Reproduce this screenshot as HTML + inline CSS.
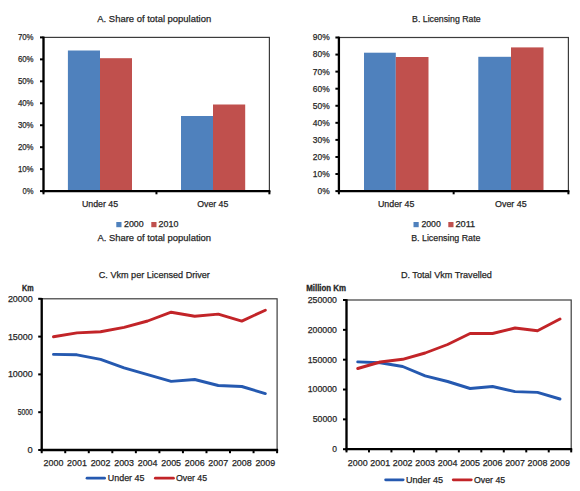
<!DOCTYPE html>
<html><head><meta charset="utf-8"><style>
html,body{margin:0;padding:0;background:#fff;}
svg{display:block;}
#wrap{width:580px;height:491px;}
text{font-family:"Liberation Sans",sans-serif;}
</style></head><body><div id="wrap">
<svg width="580" height="491" viewBox="0 0 580 491">
<rect x="0" y="0" width="580" height="491" fill="#fff"/>
<rect x="43.50" y="37.40" width="225.90" height="153.70" fill="none" stroke="#3c3c3c" stroke-width="1.2"/>
<rect x="67.90" y="50.50" width="32.10" height="140.60" fill="#4F81BD"/>
<rect x="100.00" y="58.20" width="32.00" height="132.90" fill="#C0504D"/>
<rect x="181.00" y="116.00" width="32.00" height="75.10" fill="#4F81BD"/>
<rect x="213.00" y="104.50" width="32.20" height="86.60" fill="#C0504D"/>
<line x1="43.50" y1="36.60" x2="43.50" y2="192.25" stroke="#000" stroke-width="2.3" stroke-linecap="butt"/>
<line x1="42.30" y1="191.10" x2="270.40" y2="191.10" stroke="#000" stroke-width="2.3" stroke-linecap="butt"/>
<line x1="40.00" y1="191.10" x2="43.50" y2="191.10" stroke="#000" stroke-width="2.0" stroke-linecap="butt"/>
<line x1="40.00" y1="169.14" x2="43.50" y2="169.14" stroke="#000" stroke-width="2.0" stroke-linecap="butt"/>
<line x1="40.00" y1="147.19" x2="43.50" y2="147.19" stroke="#000" stroke-width="2.0" stroke-linecap="butt"/>
<line x1="40.00" y1="125.23" x2="43.50" y2="125.23" stroke="#000" stroke-width="2.0" stroke-linecap="butt"/>
<line x1="40.00" y1="103.27" x2="43.50" y2="103.27" stroke="#000" stroke-width="2.0" stroke-linecap="butt"/>
<line x1="40.00" y1="81.31" x2="43.50" y2="81.31" stroke="#000" stroke-width="2.0" stroke-linecap="butt"/>
<line x1="40.00" y1="59.36" x2="43.50" y2="59.36" stroke="#000" stroke-width="2.0" stroke-linecap="butt"/>
<line x1="40.00" y1="37.40" x2="43.50" y2="37.40" stroke="#000" stroke-width="2.0" stroke-linecap="butt"/>
<line x1="43.50" y1="191.10" x2="43.50" y2="194.30" stroke="#000" stroke-width="2.0" stroke-linecap="butt"/>
<line x1="156.45" y1="191.10" x2="156.45" y2="194.30" stroke="#000" stroke-width="2.0" stroke-linecap="butt"/>
<line x1="269.40" y1="191.10" x2="269.40" y2="194.30" stroke="#000" stroke-width="2.0" stroke-linecap="butt"/>
<text x="22.60" y="194.00" font-size="9.5" textLength="11.00" lengthAdjust="spacingAndGlyphs" fill="#262626" stroke="#262626" stroke-width="0.25">0%</text>
<text x="17.90" y="172.04" font-size="9.5" textLength="15.70" lengthAdjust="spacingAndGlyphs" fill="#262626" stroke="#262626" stroke-width="0.25">10%</text>
<text x="17.90" y="150.09" font-size="9.5" textLength="15.70" lengthAdjust="spacingAndGlyphs" fill="#262626" stroke="#262626" stroke-width="0.25">20%</text>
<text x="17.90" y="128.13" font-size="9.5" textLength="15.70" lengthAdjust="spacingAndGlyphs" fill="#262626" stroke="#262626" stroke-width="0.25">30%</text>
<text x="17.90" y="106.17" font-size="9.5" textLength="15.70" lengthAdjust="spacingAndGlyphs" fill="#262626" stroke="#262626" stroke-width="0.25">40%</text>
<text x="17.90" y="84.21" font-size="9.5" textLength="15.70" lengthAdjust="spacingAndGlyphs" fill="#262626" stroke="#262626" stroke-width="0.25">50%</text>
<text x="17.90" y="62.26" font-size="9.5" textLength="15.70" lengthAdjust="spacingAndGlyphs" fill="#262626" stroke="#262626" stroke-width="0.25">60%</text>
<text x="17.90" y="40.30" font-size="9.5" textLength="15.70" lengthAdjust="spacingAndGlyphs" fill="#262626" stroke="#262626" stroke-width="0.25">70%</text>
<text x="97.30" y="22.10" font-size="9.8" textLength="113.90" lengthAdjust="spacingAndGlyphs" fill="#262626" stroke="#262626" stroke-width="0.25">A. Share of total population</text>
<text x="81.90" y="206.60" font-size="8.8" textLength="36.20" lengthAdjust="spacingAndGlyphs" fill="#262626" stroke="#262626" stroke-width="0.25">Under 45</text>
<text x="197.30" y="206.60" font-size="8.8" textLength="31.00" lengthAdjust="spacingAndGlyphs" fill="#262626" stroke="#262626" stroke-width="0.25">Over 45</text>
<rect x="116.30" y="222.00" width="5.20" height="5.20" fill="#4F81BD"/>
<text x="124.00" y="227.30" font-size="9.0" textLength="19.70" lengthAdjust="spacingAndGlyphs" fill="#262626" stroke="#262626" stroke-width="0.25">2000</text>
<rect x="151.30" y="222.00" width="5.20" height="5.20" fill="#C0504D"/>
<text x="158.60" y="227.30" font-size="9.0" textLength="19.80" lengthAdjust="spacingAndGlyphs" fill="#262626" stroke="#262626" stroke-width="0.25">2010</text>
<text x="97.40" y="240.60" font-size="9.6" textLength="113.70" lengthAdjust="spacingAndGlyphs" fill="#262626" stroke="#262626" stroke-width="0.25">A. Share of total population</text>
<rect x="338.90" y="37.50" width="229.50" height="153.60" fill="none" stroke="#3c3c3c" stroke-width="1.2"/>
<rect x="364.00" y="52.70" width="31.80" height="138.40" fill="#4F81BD"/>
<rect x="395.80" y="57.00" width="32.70" height="134.10" fill="#C0504D"/>
<rect x="478.30" y="56.80" width="32.70" height="134.30" fill="#4F81BD"/>
<rect x="511.00" y="47.40" width="32.50" height="143.70" fill="#C0504D"/>
<line x1="338.90" y1="36.70" x2="338.90" y2="192.25" stroke="#000" stroke-width="2.3" stroke-linecap="butt"/>
<line x1="337.70" y1="191.10" x2="569.40" y2="191.10" stroke="#000" stroke-width="2.3" stroke-linecap="butt"/>
<line x1="335.40" y1="191.10" x2="338.90" y2="191.10" stroke="#000" stroke-width="2.0" stroke-linecap="butt"/>
<line x1="335.40" y1="174.03" x2="338.90" y2="174.03" stroke="#000" stroke-width="2.0" stroke-linecap="butt"/>
<line x1="335.40" y1="156.97" x2="338.90" y2="156.97" stroke="#000" stroke-width="2.0" stroke-linecap="butt"/>
<line x1="335.40" y1="139.90" x2="338.90" y2="139.90" stroke="#000" stroke-width="2.0" stroke-linecap="butt"/>
<line x1="335.40" y1="122.83" x2="338.90" y2="122.83" stroke="#000" stroke-width="2.0" stroke-linecap="butt"/>
<line x1="335.40" y1="105.77" x2="338.90" y2="105.77" stroke="#000" stroke-width="2.0" stroke-linecap="butt"/>
<line x1="335.40" y1="88.70" x2="338.90" y2="88.70" stroke="#000" stroke-width="2.0" stroke-linecap="butt"/>
<line x1="335.40" y1="71.63" x2="338.90" y2="71.63" stroke="#000" stroke-width="2.0" stroke-linecap="butt"/>
<line x1="335.40" y1="54.57" x2="338.90" y2="54.57" stroke="#000" stroke-width="2.0" stroke-linecap="butt"/>
<line x1="335.40" y1="37.50" x2="338.90" y2="37.50" stroke="#000" stroke-width="2.0" stroke-linecap="butt"/>
<line x1="338.90" y1="191.10" x2="338.90" y2="194.30" stroke="#000" stroke-width="2.0" stroke-linecap="butt"/>
<line x1="453.65" y1="191.10" x2="453.65" y2="194.30" stroke="#000" stroke-width="2.0" stroke-linecap="butt"/>
<line x1="568.40" y1="191.10" x2="568.40" y2="194.30" stroke="#000" stroke-width="2.0" stroke-linecap="butt"/>
<text x="317.60" y="194.00" font-size="9.5" textLength="12.10" lengthAdjust="spacingAndGlyphs" fill="#262626" stroke="#262626" stroke-width="0.25">0%</text>
<text x="312.80" y="176.93" font-size="9.5" textLength="16.90" lengthAdjust="spacingAndGlyphs" fill="#262626" stroke="#262626" stroke-width="0.25">10%</text>
<text x="312.80" y="159.87" font-size="9.5" textLength="16.90" lengthAdjust="spacingAndGlyphs" fill="#262626" stroke="#262626" stroke-width="0.25">20%</text>
<text x="312.80" y="142.80" font-size="9.5" textLength="16.90" lengthAdjust="spacingAndGlyphs" fill="#262626" stroke="#262626" stroke-width="0.25">30%</text>
<text x="312.80" y="125.73" font-size="9.5" textLength="16.90" lengthAdjust="spacingAndGlyphs" fill="#262626" stroke="#262626" stroke-width="0.25">40%</text>
<text x="312.80" y="108.67" font-size="9.5" textLength="16.90" lengthAdjust="spacingAndGlyphs" fill="#262626" stroke="#262626" stroke-width="0.25">50%</text>
<text x="312.80" y="91.60" font-size="9.5" textLength="16.90" lengthAdjust="spacingAndGlyphs" fill="#262626" stroke="#262626" stroke-width="0.25">60%</text>
<text x="312.80" y="74.53" font-size="9.5" textLength="16.90" lengthAdjust="spacingAndGlyphs" fill="#262626" stroke="#262626" stroke-width="0.25">70%</text>
<text x="312.80" y="57.47" font-size="9.5" textLength="16.90" lengthAdjust="spacingAndGlyphs" fill="#262626" stroke="#262626" stroke-width="0.25">80%</text>
<text x="312.80" y="40.40" font-size="9.5" textLength="16.90" lengthAdjust="spacingAndGlyphs" fill="#262626" stroke="#262626" stroke-width="0.25">90%</text>
<text x="412.10" y="22.10" font-size="9.8" textLength="68.60" lengthAdjust="spacingAndGlyphs" fill="#262626" stroke="#262626" stroke-width="0.25">B. Licensing Rate</text>
<text x="378.00" y="206.60" font-size="8.8" textLength="36.30" lengthAdjust="spacingAndGlyphs" fill="#262626" stroke="#262626" stroke-width="0.25">Under 45</text>
<text x="495.00" y="206.60" font-size="8.8" textLength="31.70" lengthAdjust="spacingAndGlyphs" fill="#262626" stroke="#262626" stroke-width="0.25">Over 45</text>
<rect x="413.50" y="222.00" width="5.20" height="5.20" fill="#4F81BD"/>
<text x="421.40" y="227.30" font-size="9.0" textLength="19.40" lengthAdjust="spacingAndGlyphs" fill="#262626" stroke="#262626" stroke-width="0.25">2000</text>
<rect x="448.30" y="222.00" width="5.20" height="5.20" fill="#C0504D"/>
<text x="455.40" y="227.30" font-size="9.0" textLength="19.80" lengthAdjust="spacingAndGlyphs" fill="#262626" stroke="#262626" stroke-width="0.25">2011</text>
<text x="411.20" y="240.60" font-size="9.6" textLength="69.20" lengthAdjust="spacingAndGlyphs" fill="#262626" stroke="#262626" stroke-width="0.25">B. Licensing Rate</text>
<rect x="41.70" y="298.80" width="235.40" height="151.20" fill="none" stroke="#3c3c3c" stroke-width="1.2"/>
<line x1="41.70" y1="298.00" x2="41.70" y2="451.15" stroke="#000" stroke-width="2.3" stroke-linecap="butt"/>
<line x1="40.50" y1="450.00" x2="278.10" y2="450.00" stroke="#000" stroke-width="2.3" stroke-linecap="butt"/>
<line x1="38.20" y1="450.00" x2="41.70" y2="450.00" stroke="#000" stroke-width="2.0" stroke-linecap="butt"/>
<line x1="38.20" y1="412.20" x2="41.70" y2="412.20" stroke="#000" stroke-width="2.0" stroke-linecap="butt"/>
<line x1="38.20" y1="374.40" x2="41.70" y2="374.40" stroke="#000" stroke-width="2.0" stroke-linecap="butt"/>
<line x1="38.20" y1="336.60" x2="41.70" y2="336.60" stroke="#000" stroke-width="2.0" stroke-linecap="butt"/>
<line x1="38.20" y1="298.80" x2="41.70" y2="298.80" stroke="#000" stroke-width="2.0" stroke-linecap="butt"/>
<line x1="41.70" y1="450.00" x2="41.70" y2="453.20" stroke="#000" stroke-width="2.0" stroke-linecap="butt"/>
<line x1="65.24" y1="450.00" x2="65.24" y2="453.20" stroke="#000" stroke-width="2.0" stroke-linecap="butt"/>
<line x1="88.78" y1="450.00" x2="88.78" y2="453.20" stroke="#000" stroke-width="2.0" stroke-linecap="butt"/>
<line x1="112.32" y1="450.00" x2="112.32" y2="453.20" stroke="#000" stroke-width="2.0" stroke-linecap="butt"/>
<line x1="135.86" y1="450.00" x2="135.86" y2="453.20" stroke="#000" stroke-width="2.0" stroke-linecap="butt"/>
<line x1="159.40" y1="450.00" x2="159.40" y2="453.20" stroke="#000" stroke-width="2.0" stroke-linecap="butt"/>
<line x1="182.94" y1="450.00" x2="182.94" y2="453.20" stroke="#000" stroke-width="2.0" stroke-linecap="butt"/>
<line x1="206.48" y1="450.00" x2="206.48" y2="453.20" stroke="#000" stroke-width="2.0" stroke-linecap="butt"/>
<line x1="230.02" y1="450.00" x2="230.02" y2="453.20" stroke="#000" stroke-width="2.0" stroke-linecap="butt"/>
<line x1="253.56" y1="450.00" x2="253.56" y2="453.20" stroke="#000" stroke-width="2.0" stroke-linecap="butt"/>
<line x1="277.10" y1="450.00" x2="277.10" y2="453.20" stroke="#000" stroke-width="2.0" stroke-linecap="butt"/>
<text x="27.60" y="452.90" font-size="9.5" textLength="5.20" lengthAdjust="spacingAndGlyphs" fill="#262626" stroke="#262626" stroke-width="0.25">0</text>
<text x="17.70" y="415.10" font-size="9.5" textLength="15.10" lengthAdjust="spacingAndGlyphs" fill="#262626" stroke="#262626" stroke-width="0.25">5000</text>
<text x="7.90" y="377.30" font-size="9.5" textLength="24.90" lengthAdjust="spacingAndGlyphs" fill="#262626" stroke="#262626" stroke-width="0.25">10000</text>
<text x="7.90" y="339.50" font-size="9.5" textLength="24.90" lengthAdjust="spacingAndGlyphs" fill="#262626" stroke="#262626" stroke-width="0.25">15000</text>
<text x="7.90" y="301.70" font-size="9.5" textLength="24.90" lengthAdjust="spacingAndGlyphs" fill="#262626" stroke="#262626" stroke-width="0.25">20000</text>
<text x="22.00" y="290.90" font-size="8.6" textLength="11.60" lengthAdjust="spacingAndGlyphs" font-weight="bold" fill="#262626" stroke="#262626" stroke-width="0.3">Km</text>
<text x="98.80" y="278.00" font-size="9.8" textLength="111.10" lengthAdjust="spacingAndGlyphs" fill="#262626" stroke="#262626" stroke-width="0.25">C. Vkm per Licensed Driver</text>
<text x="43.57" y="465.80" font-size="9.2" textLength="19.80" lengthAdjust="spacingAndGlyphs" fill="#262626" stroke="#262626" stroke-width="0.25">2000</text>
<text x="67.11" y="465.80" font-size="9.2" textLength="19.80" lengthAdjust="spacingAndGlyphs" fill="#262626" stroke="#262626" stroke-width="0.25">2001</text>
<text x="90.65" y="465.80" font-size="9.2" textLength="19.80" lengthAdjust="spacingAndGlyphs" fill="#262626" stroke="#262626" stroke-width="0.25">2002</text>
<text x="114.19" y="465.80" font-size="9.2" textLength="19.80" lengthAdjust="spacingAndGlyphs" fill="#262626" stroke="#262626" stroke-width="0.25">2003</text>
<text x="137.73" y="465.80" font-size="9.2" textLength="19.80" lengthAdjust="spacingAndGlyphs" fill="#262626" stroke="#262626" stroke-width="0.25">2004</text>
<text x="161.27" y="465.80" font-size="9.2" textLength="19.80" lengthAdjust="spacingAndGlyphs" fill="#262626" stroke="#262626" stroke-width="0.25">2005</text>
<text x="184.81" y="465.80" font-size="9.2" textLength="19.80" lengthAdjust="spacingAndGlyphs" fill="#262626" stroke="#262626" stroke-width="0.25">2006</text>
<text x="208.35" y="465.80" font-size="9.2" textLength="19.80" lengthAdjust="spacingAndGlyphs" fill="#262626" stroke="#262626" stroke-width="0.25">2007</text>
<text x="231.89" y="465.80" font-size="9.2" textLength="19.80" lengthAdjust="spacingAndGlyphs" fill="#262626" stroke="#262626" stroke-width="0.25">2008</text>
<text x="255.43" y="465.80" font-size="9.2" textLength="19.80" lengthAdjust="spacingAndGlyphs" fill="#262626" stroke="#262626" stroke-width="0.25">2009</text>
<polyline points="53.47,354.40 77.01,354.80 100.55,359.40 124.09,367.90 147.63,374.60 171.17,381.40 194.71,379.50 218.25,385.50 241.79,386.50 265.33,393.60" fill="none" stroke="#2559B0" stroke-width="2.9" stroke-linejoin="round" stroke-linecap="round"/>
<polyline points="53.47,336.80 77.01,332.90 100.55,331.80 124.09,327.40 147.63,321.00 171.17,312.20 194.71,316.30 218.25,314.10 241.79,321.10 265.33,310.20" fill="none" stroke="#C22428" stroke-width="2.9" stroke-linejoin="round" stroke-linecap="round"/>
<line x1="87.00" y1="478.20" x2="104.60" y2="478.20" stroke="#2559B0" stroke-width="2.7" stroke-linecap="round"/>
<text x="107.80" y="481.00" font-size="8.8" textLength="36.70" lengthAdjust="spacingAndGlyphs" fill="#262626" stroke="#262626" stroke-width="0.25">Under 45</text>
<line x1="155.30" y1="478.20" x2="173.50" y2="478.20" stroke="#C22428" stroke-width="2.7" stroke-linecap="round"/>
<text x="176.00" y="481.00" font-size="8.8" textLength="31.10" lengthAdjust="spacingAndGlyphs" fill="#262626" stroke="#262626" stroke-width="0.25">Over 45</text>
<rect x="346.50" y="300.00" width="224.70" height="149.20" fill="none" stroke="#3c3c3c" stroke-width="1.2"/>
<line x1="346.50" y1="299.20" x2="346.50" y2="450.35" stroke="#000" stroke-width="2.3" stroke-linecap="butt"/>
<line x1="345.30" y1="449.20" x2="572.20" y2="449.20" stroke="#000" stroke-width="2.3" stroke-linecap="butt"/>
<line x1="343.00" y1="449.20" x2="346.50" y2="449.20" stroke="#000" stroke-width="2.0" stroke-linecap="butt"/>
<line x1="343.00" y1="419.36" x2="346.50" y2="419.36" stroke="#000" stroke-width="2.0" stroke-linecap="butt"/>
<line x1="343.00" y1="389.52" x2="346.50" y2="389.52" stroke="#000" stroke-width="2.0" stroke-linecap="butt"/>
<line x1="343.00" y1="359.68" x2="346.50" y2="359.68" stroke="#000" stroke-width="2.0" stroke-linecap="butt"/>
<line x1="343.00" y1="329.84" x2="346.50" y2="329.84" stroke="#000" stroke-width="2.0" stroke-linecap="butt"/>
<line x1="343.00" y1="300.00" x2="346.50" y2="300.00" stroke="#000" stroke-width="2.0" stroke-linecap="butt"/>
<line x1="346.50" y1="449.20" x2="346.50" y2="452.40" stroke="#000" stroke-width="2.0" stroke-linecap="butt"/>
<line x1="368.97" y1="449.20" x2="368.97" y2="452.40" stroke="#000" stroke-width="2.0" stroke-linecap="butt"/>
<line x1="391.44" y1="449.20" x2="391.44" y2="452.40" stroke="#000" stroke-width="2.0" stroke-linecap="butt"/>
<line x1="413.91" y1="449.20" x2="413.91" y2="452.40" stroke="#000" stroke-width="2.0" stroke-linecap="butt"/>
<line x1="436.38" y1="449.20" x2="436.38" y2="452.40" stroke="#000" stroke-width="2.0" stroke-linecap="butt"/>
<line x1="458.85" y1="449.20" x2="458.85" y2="452.40" stroke="#000" stroke-width="2.0" stroke-linecap="butt"/>
<line x1="481.32" y1="449.20" x2="481.32" y2="452.40" stroke="#000" stroke-width="2.0" stroke-linecap="butt"/>
<line x1="503.79" y1="449.20" x2="503.79" y2="452.40" stroke="#000" stroke-width="2.0" stroke-linecap="butt"/>
<line x1="526.26" y1="449.20" x2="526.26" y2="452.40" stroke="#000" stroke-width="2.0" stroke-linecap="butt"/>
<line x1="548.73" y1="449.20" x2="548.73" y2="452.40" stroke="#000" stroke-width="2.0" stroke-linecap="butt"/>
<line x1="571.20" y1="449.20" x2="571.20" y2="452.40" stroke="#000" stroke-width="2.0" stroke-linecap="butt"/>
<text x="332.30" y="452.10" font-size="9.5" textLength="4.70" lengthAdjust="spacingAndGlyphs" fill="#262626" stroke="#262626" stroke-width="0.25">0</text>
<text x="312.70" y="422.26" font-size="9.5" textLength="24.30" lengthAdjust="spacingAndGlyphs" fill="#262626" stroke="#262626" stroke-width="0.25">50000</text>
<text x="307.70" y="392.42" font-size="9.5" textLength="29.30" lengthAdjust="spacingAndGlyphs" fill="#262626" stroke="#262626" stroke-width="0.25">100000</text>
<text x="307.70" y="362.58" font-size="9.5" textLength="29.30" lengthAdjust="spacingAndGlyphs" fill="#262626" stroke="#262626" stroke-width="0.25">150000</text>
<text x="307.70" y="332.74" font-size="9.5" textLength="29.30" lengthAdjust="spacingAndGlyphs" fill="#262626" stroke="#262626" stroke-width="0.25">200000</text>
<text x="307.70" y="302.90" font-size="9.5" textLength="29.30" lengthAdjust="spacingAndGlyphs" fill="#262626" stroke="#262626" stroke-width="0.25">250000</text>
<text x="306.20" y="290.90" font-size="8.6" textLength="39.90" lengthAdjust="spacingAndGlyphs" font-weight="bold" fill="#262626" stroke="#262626" stroke-width="0.3">Million Km</text>
<text x="400.90" y="278.00" font-size="9.8" textLength="91.00" lengthAdjust="spacingAndGlyphs" fill="#262626" stroke="#262626" stroke-width="0.25">D. Total Vkm Travelled</text>
<text x="347.84" y="465.80" font-size="9.2" textLength="19.80" lengthAdjust="spacingAndGlyphs" fill="#262626" stroke="#262626" stroke-width="0.25">2000</text>
<text x="370.31" y="465.80" font-size="9.2" textLength="19.80" lengthAdjust="spacingAndGlyphs" fill="#262626" stroke="#262626" stroke-width="0.25">2001</text>
<text x="392.78" y="465.80" font-size="9.2" textLength="19.80" lengthAdjust="spacingAndGlyphs" fill="#262626" stroke="#262626" stroke-width="0.25">2002</text>
<text x="415.25" y="465.80" font-size="9.2" textLength="19.80" lengthAdjust="spacingAndGlyphs" fill="#262626" stroke="#262626" stroke-width="0.25">2003</text>
<text x="437.72" y="465.80" font-size="9.2" textLength="19.80" lengthAdjust="spacingAndGlyphs" fill="#262626" stroke="#262626" stroke-width="0.25">2004</text>
<text x="460.19" y="465.80" font-size="9.2" textLength="19.80" lengthAdjust="spacingAndGlyphs" fill="#262626" stroke="#262626" stroke-width="0.25">2005</text>
<text x="482.66" y="465.80" font-size="9.2" textLength="19.80" lengthAdjust="spacingAndGlyphs" fill="#262626" stroke="#262626" stroke-width="0.25">2006</text>
<text x="505.13" y="465.80" font-size="9.2" textLength="19.80" lengthAdjust="spacingAndGlyphs" fill="#262626" stroke="#262626" stroke-width="0.25">2007</text>
<text x="527.60" y="465.80" font-size="9.2" textLength="19.80" lengthAdjust="spacingAndGlyphs" fill="#262626" stroke="#262626" stroke-width="0.25">2008</text>
<text x="550.07" y="465.80" font-size="9.2" textLength="19.80" lengthAdjust="spacingAndGlyphs" fill="#262626" stroke="#262626" stroke-width="0.25">2009</text>
<polyline points="357.74,361.90 380.21,362.70 402.68,366.50 425.15,375.80 447.62,381.50 470.09,388.50 492.56,386.50 515.03,391.60 537.50,392.40 559.97,399.00" fill="none" stroke="#2559B0" stroke-width="2.9" stroke-linejoin="round" stroke-linecap="round"/>
<polyline points="357.74,368.50 380.21,362.00 402.68,359.30 425.15,353.00 447.62,344.50 470.09,333.50 492.56,333.50 515.03,328.00 537.50,330.80 559.97,319.00" fill="none" stroke="#C22428" stroke-width="2.9" stroke-linejoin="round" stroke-linecap="round"/>
<line x1="385.60" y1="479.80" x2="403.20" y2="479.80" stroke="#2559B0" stroke-width="2.7" stroke-linecap="round"/>
<text x="405.90" y="482.60" font-size="8.8" textLength="37.20" lengthAdjust="spacingAndGlyphs" fill="#262626" stroke="#262626" stroke-width="0.25">Under 45</text>
<line x1="453.20" y1="479.80" x2="471.30" y2="479.80" stroke="#C22428" stroke-width="2.7" stroke-linecap="round"/>
<text x="474.00" y="482.60" font-size="8.8" textLength="31.20" lengthAdjust="spacingAndGlyphs" fill="#262626" stroke="#262626" stroke-width="0.25">Over 45</text>
</svg></div>
</body></html>
